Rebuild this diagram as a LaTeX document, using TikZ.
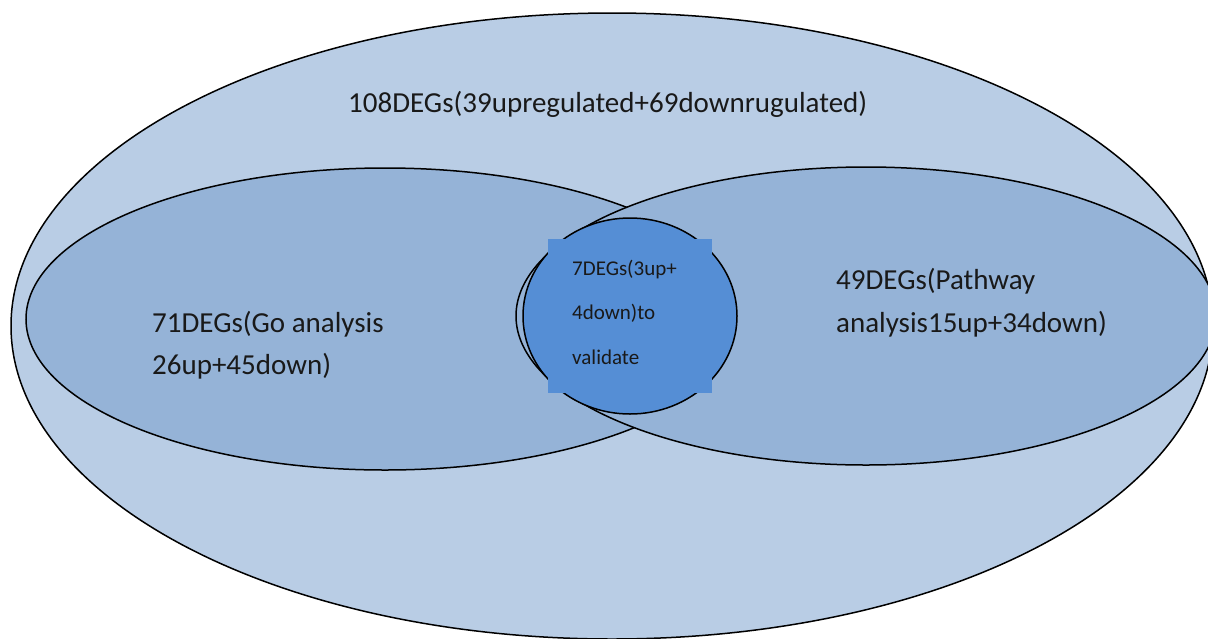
\documentclass[tikz,border=0pt]{standalone}
\usepackage{fontspec}
\setmainfont{Carlito}
\definecolor{outerblue}{HTML}{B9CDE5}
\definecolor{midblue}{HTML}{95B3D7}
\definecolor{coreblue}{HTML}{558ED5}
\begin{document}
\begin{tikzpicture}[x=1pt,y=-1pt,
  venn/.style={draw=black, line width=1.5pt},
  lbl/.style={anchor=base west, inner sep=0pt, font=\fontsize{29}{34}\selectfont, text=black!90},
  small/.style={anchor=base west, inner sep=0pt, font=\fontsize{21}{26}\selectfont, text=black!90}]
\useasboundingbox (0,0) rectangle (1208,638);
\fill[white] (0,0) rectangle (1208,638);
\clip (0,0) rectangle (1208,638);
% outer set
\draw[venn, fill=outerblue] (612,326) ellipse [x radius=601pt, y radius=313pt];
% GO analysis set
\draw[venn, fill=midblue] (385,319) ellipse [x radius=359pt, y radius=151pt];
% pathway set
\draw[venn, fill=midblue] (866,316) ellipse [x radius=350pt, y radius=149pt];
% core set
\draw[venn, fill=coreblue] (630,316) ellipse [x radius=107pt, y radius=98pt];
\fill[coreblue] (548,239) rectangle (712,393);
% labels
\node[lbl] (all) at (348,112) {108DEGs(39upregulated+69downrugulated)};
\node[lbl] (goA) at (152,332) {71DEGs(Go analysis};
\node[lbl] (goB) at (152,374) {26up+45down)};
\node[lbl] (pwA) at (836,289) {49DEGs(Pathway};
\node[lbl] (pwB) at (836,332) {analysis15up+34down)};
\node[small] (coreA) at (572,275) {7DEGs(3up+};
\node[small] (coreB) at (572,319) {4down)to};
\node[small] (coreC) at (572,364) {validate};
\end{tikzpicture}
\end{document}
